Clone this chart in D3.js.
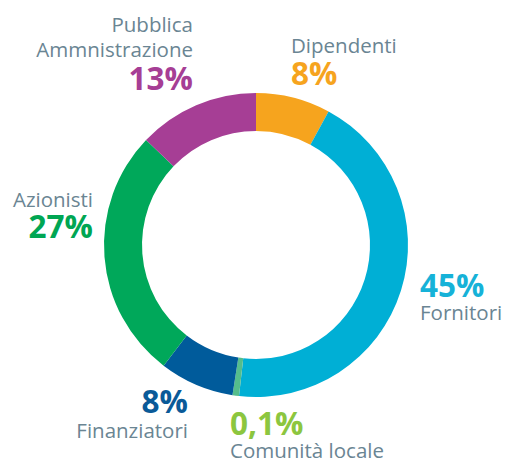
<!DOCTYPE html>
<html>
<head>
<meta charset="utf-8">
<script src="https://cdn.jsdelivr.net/npm/d3@7"></script>
<style>
  body { margin: 0; background: #fff; }
  text { font-family: "Open Sans", sans-serif; }
</style>
</head>
<body>
<div id="chart"></div>
<script>
var width = 505, height = 461;

// categories, clockwise from 12 o'clock
var categories = ["Dipendenti", "Fornitori", "Comunità locale", "Finanziatori", "Azionisti", "Pubblica Ammnistrazione"];
// arc shares as drawn in the picture (small slice drawn slightly larger than its 0,1%)
var shares = [8, 44.3, 0.7, 8, 27, 13];
// printed percentage labels
var pctLabels = ["8%", "45%", "0,1%", "8%", "27%", "13%"];
var sliceColors = ["#f6a41e", "#00afd5", "#55bd8c", "#005b9b", "#00a85a", "#a63e95"];
var pctColors = ["#f6a41e", "#16b2d8", "#8cc63f", "#0a5a98", "#00a653", "#a63e95"];
var nameColor = "#6a8593";

var svg = d3.select('#chart').append('svg')
	.attr('width', width)
	.attr('height', height);

var cx = 256, cy = 245;
var outerR = 152, innerR = 114;

var pie = d3.pie().sort(null).value(function(d) { return d; });
var arc = d3.arc().innerRadius(innerR).outerRadius(outerR);

var g = svg.append('g').attr('transform', 'translate(' + cx + ',' + cy + ')');
g.selectAll('path')
	.data(pie(shares))
	.enter().append('path')
	.attr('d', arc)
	.style('fill', function(d, i) { return sliceColors[i]; });

// label blocks: name lines, percentage, placement
var labels = [
	{ i: 0, x: 291, anchor: 'start', name: [["Dipendenti", 53]], pctY: 85 },
	{ i: 1, x: 420, anchor: 'start', name: [["Fornitori", 320]], pctY: 297 },
	{ i: 2, x: 230, anchor: 'start', name: [["Comunità locale", 458]], pctY: 435 },
	{ i: 3, x: 188, anchor: 'end', name: [["Finanziatori", 438]], pctY: 413 },
	{ i: 4, x: 93, anchor: 'end', name: [["Azionisti", 207]], pctY: 238 },
	{ i: 5, x: 193, anchor: 'end', name: [["Pubblica", 32], ["Ammnistrazione", 57]], pctY: 90 }
];

labels.forEach(function(l) {
	l.name.forEach(function(n) {
		svg.append('text')
			.attr('x', l.x)
			.attr('y', n[1])
			.attr('text-anchor', l.anchor)
			.style('font-size', '20.5px')
			.style('fill', nameColor)
			.text(n[0]);
	});
	svg.append('text')
		.attr('x', l.x)
		.attr('y', l.pctY)
		.attr('text-anchor', l.anchor)
		.style('font-size', '31.5px')
		.style('font-weight', 'bold')
		.style('fill', pctColors[l.i])
		.text(pctLabels[l.i]);
});
</script>
</body>
</html>
